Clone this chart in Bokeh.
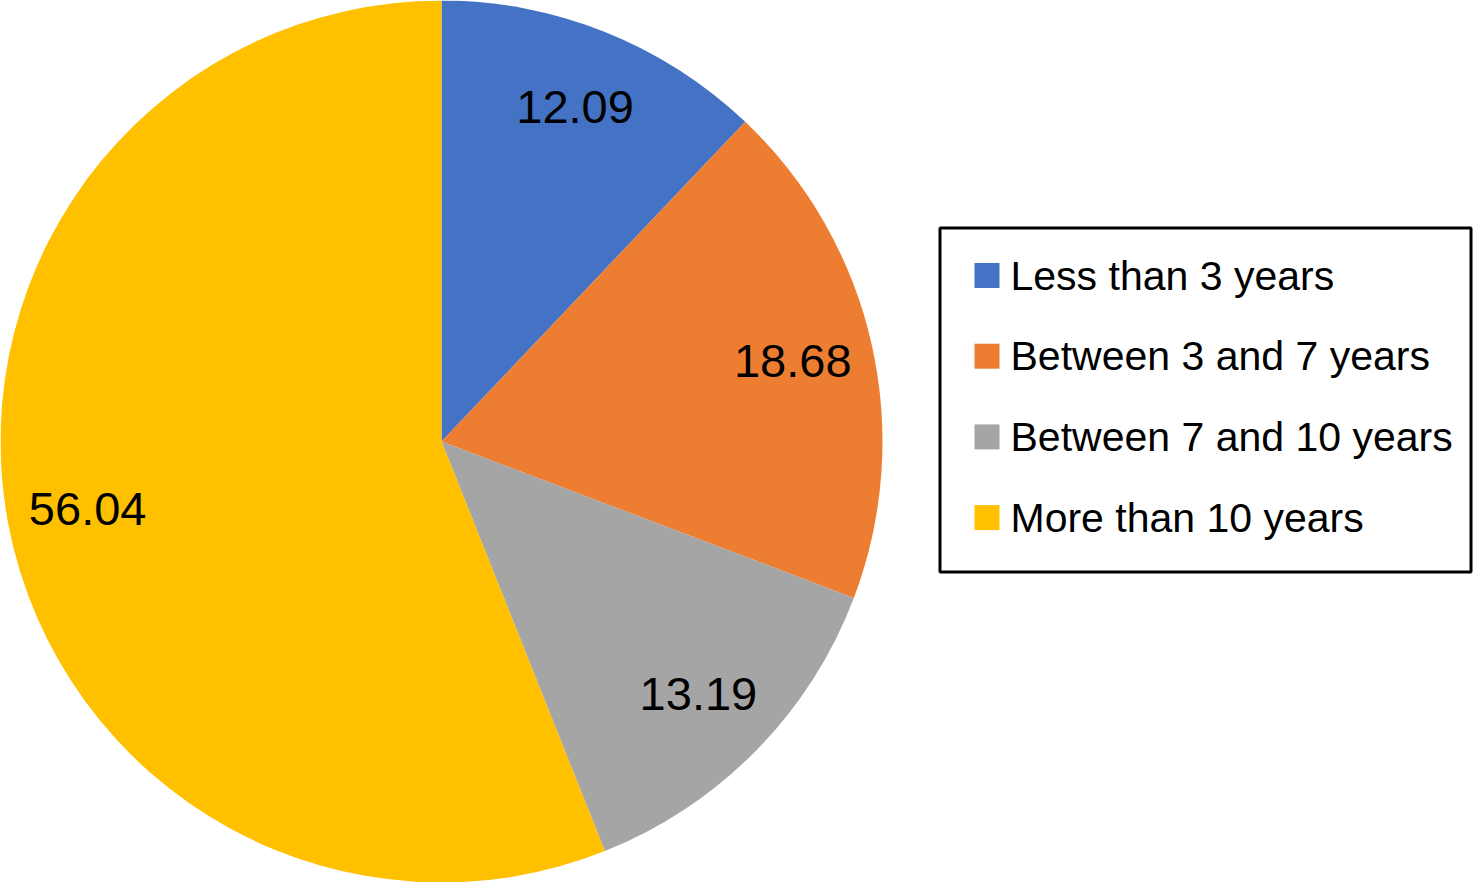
import math
from bokeh.plotting import figure
from bokeh.models import Range1d, ColumnDataSource
from bokeh.core.properties import value
from bokeh.embed import file_html
from bokeh.resources import INLINE

# ---- data ----
categories = ["Less than 3 years", "Between 3 and 7 years",
              "Between 7 and 10 years", "More than 10 years"]
values = [12.09, 18.68, 13.19, 56.04]
value_labels = ["12.09", "18.68", "13.19", "56.04"]
colors = ["#4472C4", "#ED7D31", "#A5A5A5", "#FFC000"]

# ---- layout ----
W, H = 1473, 882
CX, CY_TOP, R = 441, 441, 441
CY = H - CY_TOP
LABEL_FRAC = 0.817
FONT = "Liberation Sans"

p = figure(width=W, height=H, output_backend="svg", toolbar_location=None,
           x_range=Range1d(0, W), y_range=Range1d(0, H), min_border=0,
           background_fill_color="white", border_fill_color="white")
p.axis.visible = False
p.grid.visible = False
p.outline_line_color = None

total = sum(values)
starts, ends, lx, ly = [], [], [], []
cum = 0.0
for v in values:
    a0 = math.pi / 2 - 2 * math.pi * cum / total
    cum += v
    a1 = math.pi / 2 - 2 * math.pi * cum / total
    starts.append(a0)
    ends.append(a1)
    mid = (a0 + a1) / 2
    lx.append(CX + LABEL_FRAC * R * math.cos(mid))
    ly.append(CY + LABEL_FRAC * R * math.sin(mid))

src = ColumnDataSource(dict(start=starts, end=ends, color=colors,
                            lx=lx, ly=ly, lab=value_labels, cat=categories))
p.wedge(x=CX, y=CY, radius=R, start_angle="start", end_angle="end",
        direction="clock", fill_color="color", line_color=None, source=src)
p.text(x="lx", y="ly", text="lab", source=src, text_align="center",
       text_baseline="middle", text_font=value(FONT),
       text_font_size=value("47px"), text_color="black")

# ---- legend (drawn manually) ----
box_l, box_r, box_t, box_b = 939.5, 1470.5, 227.5, 571.5
p.quad(left=box_l, right=box_r, top=H - box_t, bottom=H - box_b,
       fill_color=None, line_color="black", line_width=3)

row0, step = 275, 80.7
mk_x, txt_x = 986.5, 1010
rows_y = [H - (row0 + i * step) for i in range(len(categories))]
lsrc = ColumnDataSource(dict(y=rows_y, cat=categories, color=colors))
p.scatter(x=mk_x, y="y", marker="square", size=25, fill_color="color",
          line_color=None, source=lsrc)
p.text(x=txt_x, y="y", text="cat", source=lsrc, text_align="left",
       text_baseline="middle", text_font=value(FONT),
       text_font_size=value("41px"), text_color="black")

open("out.html", "w").write(file_html(p, INLINE))
